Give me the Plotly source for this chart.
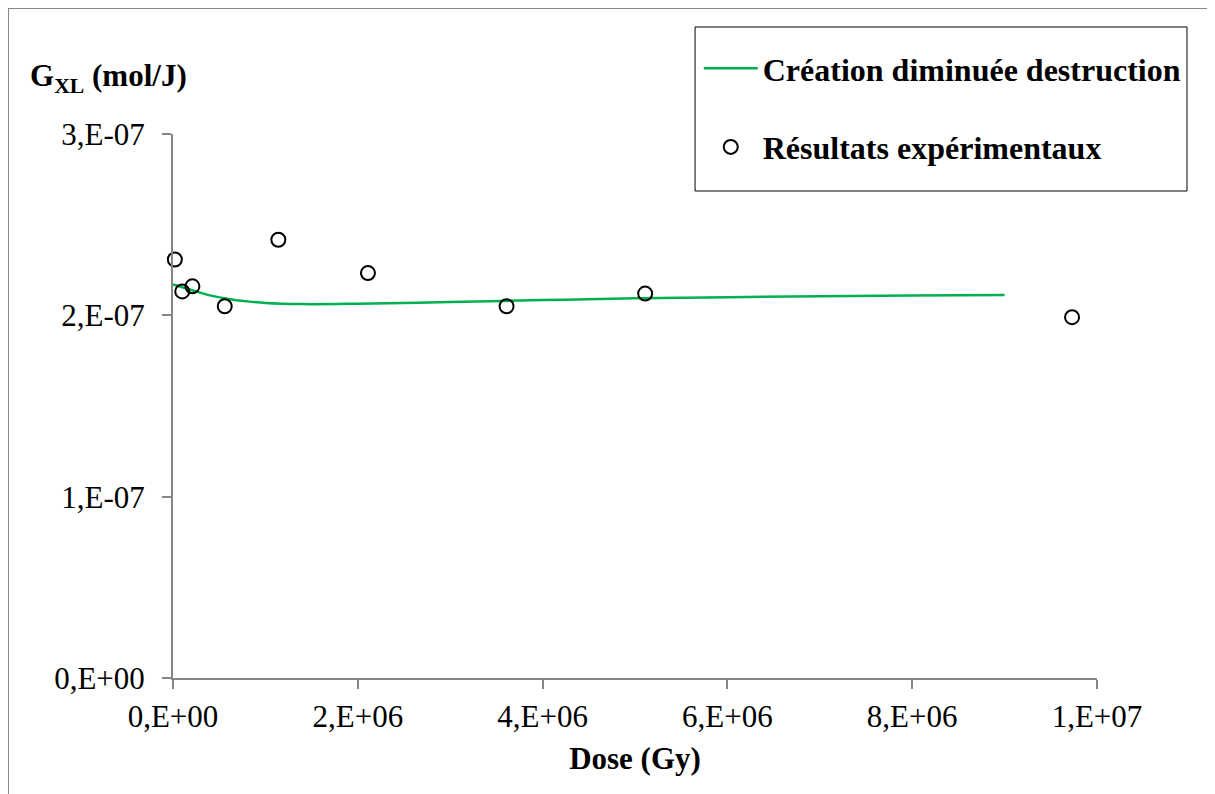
import plotly.graph_objects as go

# Data
model_dose = [0, 0.1e6, 0.2e6, 0.4e6, 0.6e6, 0.8e6, 1.0e6, 1.4e6, 2.0e6, 3.0e6, 4.0e6, 5.0e6, 6.0e6, 7.0e6, 8.0e6, 9.0e6]
model_g = [2.17e-7, 2.155e-7, 2.14e-7, 2.11e-7, 2.09e-7, 2.077e-7, 2.068e-7, 2.062e-7, 2.064e-7, 2.073e-7, 2.084e-7, 2.094e-7, 2.100e-7, 2.105e-7, 2.109e-7, 2.112e-7]

exp_dose = [0.02e6, 0.1e6, 0.21e6, 0.56e6, 1.14e6, 2.11e6, 3.61e6, 5.11e6, 9.73e6]
exp_g = [2.308e-7, 2.132e-7, 2.16e-7, 2.05e-7, 2.417e-7, 2.233e-7, 2.05e-7, 2.12e-7, 1.99e-7]

x_ticks = [0, 2e6, 4e6, 6e6, 8e6, 1e7]
x_ticktext = ["0,E+00", "2,E+06", "4,E+06", "6,E+06", "8,E+06", "1,E+07"]
y_ticks = [0, 1e-7, 2e-7, 3e-7]
y_ticktext = ["0,E+00", "1,E-07", "2,E-07", "3,E-07"]

FONT = "Liberation Serif, Times New Roman, serif"
GRAY = "#868686"

fig = go.Figure()
fig.add_trace(go.Scatter(
    x=model_dose, y=model_g, mode="lines", line=dict(color="#00B050", width=2.5, shape="spline"),
    name="<b>Création diminuée destruction</b>", legendgroup="a"))
fig.add_trace(go.Scatter(
    x=exp_dose, y=exp_g, mode="markers",
    marker=dict(symbol="circle-open", size=14, color="black", line=dict(width=2, color="black")),
    name="<b>Résultats expérimentaux</b>", legendgroup="b", cliponaxis=False))

fig.update_layout(
    width=1215, height=794,
    margin=dict(l=165, r=126, t=126, b=124),
    paper_bgcolor="white", plot_bgcolor="white",
    font=dict(family=FONT, size=31, color="black"),
    showlegend=True,
    legend=dict(x=0.569, y=1.171, xanchor="left", yanchor="top",
                borderwidth=0, bgcolor="rgba(0,0,0,0)",
                font=dict(family=FONT, size=32, color="black"),
                tracegroupgap=34, itemwidth=54, traceorder="grouped"),
    xaxis=dict(range=[0, 1e7], tickvals=x_ticks, ticktext=x_ticktext,
               showgrid=False, zeroline=False, showline=True, linecolor=GRAY, linewidth=2,
               ticks="outside", ticklen=9, tickcolor=GRAY, tickwidth=2,
               tickfont=dict(family=FONT, size=31), ticklabelstandoff=1,
               title=dict(text="<b>Dose (Gy)</b>", font=dict(family=FONT, size=31), standoff=14)),
    yaxis=dict(range=[0, 3e-7], tickvals=y_ticks, ticktext=y_ticktext,
               showgrid=False, zeroline=False, showline=True, linecolor=GRAY, linewidth=2,
               ticks="outside", ticklen=9, tickcolor=GRAY, tickwidth=2,
               tickfont=dict(family=FONT, size=31), ticklabelstandoff=11),
    annotations=[dict(text="<b>G<sub>XL</sub> (mol/J)</b>", xref="paper", yref="paper",
                      x=-0.157, y=1.103, xanchor="left", yanchor="middle", showarrow=False,
                      font=dict(family=FONT, size=31))],
    shapes=[
        dict(type="line", xref="paper", yref="paper", x0=-0.1786, x1=1.2, y0=1.2316, y1=1.2316,
             line=dict(color=GRAY, width=2)),
        dict(type="line", xref="paper", yref="paper", x0=-0.1786, x1=-0.1786, y0=1.2316, y1=-0.3,
             line=dict(color=GRAY, width=2)),
        dict(type="rect", xref="paper", yref="paper", x0=0.565, x1=1.0974, y0=0.8952, y1=1.1967,
             line=dict(color="black", width=1), layer="below"),
    ],
)

fig.write_html("out.html")
